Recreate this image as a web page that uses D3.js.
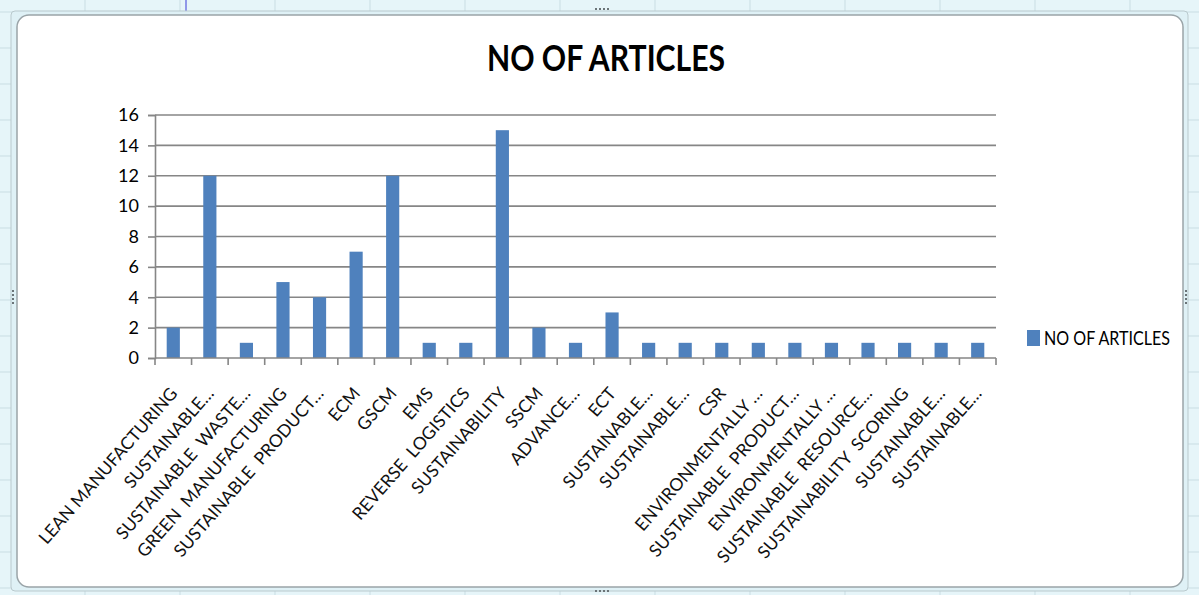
<!DOCTYPE html>
<html>
<head>
<meta charset="utf-8">
<script src="https://cdn.jsdelivr.net/npm/d3@7"></script>
<style>
  html, body { margin: 0; padding: 0; background: #e6f5f9; }
  svg { display: block; font-family: "Lato", "Open Sans", sans-serif; }
</style>
</head>
<body>
<div id="chart"></div>
<script>
var categories = [
  "LEAN MANUFACTURING", "SUSTAINABLE\u2026", "SUSTAINABLE  WASTE\u2026",
  "GREEN  MANUFACTURING", "SUSTAINABLE  PRODUCT\u2026", "ECM", "GSCM", "EMS",
  "REVERSE  LOGISTICS", "SUSTAINABILITY", "SSCM", "ADVANCE\u2026", "ECT",
  "SUSTAINABLE\u2026", "SUSTAINABLE\u2026", "CSR", "ENVIRONMENTALLY \u2026",
  "SUSTAINABLE  PRODUCT\u2026", "ENVIRONMENTALLY \u2026", "SUSTAINABLE  RESOURCE\u2026",
  "SUSTAINABILITY  SCORING", "SUSTAINABLE\u2026", "SUSTAINABLE\u2026"
];
var articles = [2, 12, 1, 5, 4, 7, 12, 1, 1, 15, 2, 1, 3, 1, 1, 1, 1, 1, 1, 1, 1, 1, 1];
var yTicks = [0, 2, 4, 6, 8, 10, 12, 14, 16];
var seriesName = "NO OF ARTICLES";
var chartTitle = "NO OF ARTICLES";

var width = 1199, height = 595;
var plot = { left: 155, right: 996, top: 115, bottom: 358 };

var svg = d3.select("#chart").append("svg")
  .attr("width", width)
  .attr("height", height);

// spreadsheet background behind the chart object
var bg = svg.append("g");
bg.append("rect").attr("width", width).attr("height", height).attr("fill", "#e6f5f9");
d3.range(-10, width, 95).forEach(function(x) {
  bg.append("line").attr("x1", x).attr("x2", x).attr("y1", 0).attr("y2", height)
    .attr("stroke", "#c9dde3").attr("stroke-width", 1);
});
d3.range(12, height, 36).forEach(function(y) {
  bg.append("line").attr("x1", 0).attr("x2", width).attr("y1", y).attr("y2", y)
    .attr("stroke", "#c9dde3").attr("stroke-width", 1);
});
bg.append("line").attr("x1", 186).attr("x2", 186).attr("y1", 0).attr("y2", 12)
  .attr("stroke", "#3a3ad8").attr("stroke-width", 1);

// chart object frame
svg.append("rect")
  .attr("x", 11).attr("y", 11).attr("width", 1177).attr("height", 580)
  .attr("rx", 4).attr("fill", "#dff1f6").attr("stroke", "#b9c9cd").attr("stroke-width", 1);
svg.append("rect")
  .attr("x", 17).attr("y", 15).attr("width", 1166).attr("height", 572)
  .attr("rx", 12).attr("fill", "#ffffff").attr("stroke", "#9aa4a8").attr("stroke-width", 1.5);

// handle dots
function dots(cx, cy, horiz) {
  for (var i = 0; i < 4; i++) {
    svg.append("rect")
      .attr("x", horiz ? cx + i * 4 : cx).attr("y", horiz ? cy : cy + i * 4)
      .attr("width", 2).attr("height", 2).attr("fill", "#6b7478");
  }
}
dots(595, 8, true);
dots(595, 590, true);
dots(12, 290, false);
dots(1185, 290, false);

var x = d3.scaleBand()
  .domain(d3.range(categories.length))
  .range([plot.left, plot.right])
  .paddingInner(0.64)
  .paddingOuter(0.32);

var y = d3.scaleLinear()
  .domain([0, 16])
  .range([plot.bottom, plot.top]);

// gridlines
svg.append("g")
  .selectAll("line")
  .data(yTicks.filter(function(d) { return d > 0; }))
  .enter().append("line")
  .attr("x1", plot.left).attr("x2", plot.right)
  .attr("y1", function(d) { return y(d); })
  .attr("y2", function(d) { return y(d); })
  .attr("stroke", "#868686").attr("stroke-width", 1.6);

// bars
svg.append("g")
  .selectAll("rect")
  .data(articles)
  .enter().append("rect")
  .attr("x", function(d, i) { return x(i); })
  .attr("y", function(d) { return y(d); })
  .attr("width", x.bandwidth())
  .attr("height", function(d) { return y(0) - y(d); })
  .attr("fill", "#4f81bd");

// y axis
var yAxis = d3.axisLeft(y).tickValues(yTicks).tickSize(7).tickPadding(9);
var gy = svg.append("g")
  .attr("transform", "translate(" + plot.left + ",0)")
  .call(yAxis);
gy.select(".domain").attr("stroke", "#868686").attr("stroke-width", 1.6);
gy.selectAll(".tick line").attr("stroke", "#868686").attr("stroke-width", 1.6);
gy.selectAll(".tick text")
  .attr("font-size", 18).attr("fill", "#000")
  .attr("font-family", "Lato, 'Open Sans', sans-serif");

// x axis line and ticks between categories
var gx = svg.append("g");
gx.append("line")
  .attr("x1", plot.left).attr("x2", plot.right)
  .attr("y1", plot.bottom).attr("y2", plot.bottom)
  .attr("stroke", "#868686").attr("stroke-width", 1.6);
gx.selectAll(".xt")
  .data(d3.range(categories.length + 1))
  .enter().append("line")
  .attr("class", "xt")
  .attr("x1", function(i) { return plot.left + (plot.right - plot.left) * i / categories.length; })
  .attr("x2", function(i) { return plot.left + (plot.right - plot.left) * i / categories.length; })
  .attr("y1", plot.bottom).attr("y2", plot.bottom + 7)
  .attr("stroke", "#868686").attr("stroke-width", 1.6);

gx.selectAll("text")
  .data(categories)
  .enter().append("text")
  .attr("transform", function(d, i) {
    var cx = x(i) + x.bandwidth() / 2 + 5;
    return "translate(" + cx + "," + (plot.bottom + 36) + ") rotate(-49)";
  })
  .attr("text-anchor", "end")
  .attr("font-size", 17.5)
  .attr("fill", "#111")
  .style("white-space", "pre")
  .text(function(d) { return d; });

// title
svg.append("text")
  .attr("x", 606).attr("y", 71)
  .attr("text-anchor", "middle")
  .attr("font-size", 36)
  .attr("font-weight", "bold")
  .attr("fill", "#000")
  .attr("textLength", 238)
  .attr("lengthAdjust", "spacingAndGlyphs")
  .text(chartTitle);

// legend
var lg = svg.append("g").attr("transform", "translate(1027,330)");
lg.append("rect").attr("width", 13).attr("height", 16).attr("fill", "#4f81bd");
lg.append("text")
  .attr("x", 17).attr("y", 15)
  .attr("font-size", 19).attr("fill", "#000")
  .attr("textLength", 126)
  .attr("lengthAdjust", "spacingAndGlyphs")
  .text(seriesName);
</script>
</body>
</html>
